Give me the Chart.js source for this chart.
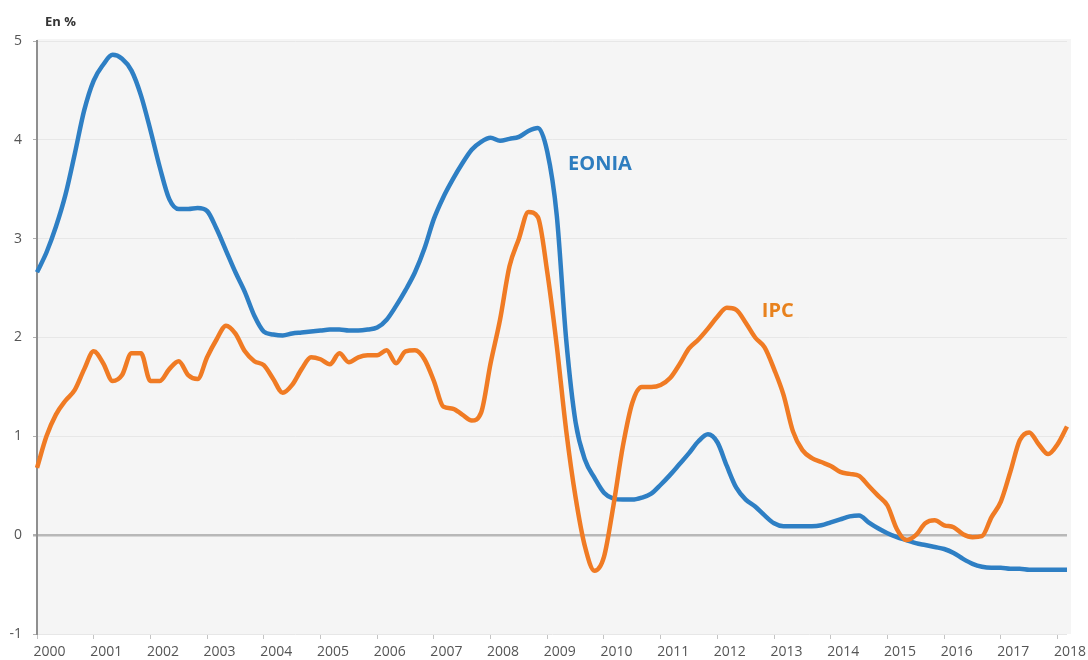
<!DOCTYPE html>
<html>
<head>
<meta charset="utf-8">
<script src="https://cdn.jsdelivr.net/npm/chart.js@4.4.1/dist/chart.umd.min.js"></script>
<style>
  html, body { margin: 0; padding: 0; background: #fff; }
  #wrap { width: 1088px; height: 660px; position: relative; }
</style>
</head>
<body>
<div id="wrap"><canvas id="chart"></canvas></div>
<script>
// one point every two months, Jan 2000 -> Mar 2018
const months = [
  '2000-01','2000-03','2000-05','2000-07','2000-09','2000-11',
  '2001-01','2001-03','2001-05','2001-07','2001-09','2001-11',
  '2002-01','2002-03','2002-05','2002-07','2002-09','2002-11',
  '2003-01','2003-03','2003-05','2003-07','2003-09','2003-11',
  '2004-01','2004-03','2004-05','2004-07','2004-09','2004-11',
  '2005-01','2005-03','2005-05','2005-07','2005-09','2005-11',
  '2006-01','2006-03','2006-05','2006-07','2006-09','2006-11',
  '2007-01','2007-03','2007-05','2007-07','2007-09','2007-11',
  '2008-01','2008-03','2008-05','2008-07','2008-09','2008-11',
  '2009-01','2009-03','2009-05','2009-07','2009-09','2009-11',
  '2010-01','2010-03','2010-05','2010-07','2010-09','2010-11',
  '2011-01','2011-03','2011-05','2011-07','2011-09','2011-11',
  '2012-01','2012-03','2012-05','2012-07','2012-09','2012-11',
  '2013-01','2013-03','2013-05','2013-07','2013-09','2013-11',
  '2014-01','2014-03','2014-05','2014-07','2014-09','2014-11',
  '2015-01','2015-03','2015-05','2015-07','2015-09','2015-11',
  '2016-01','2016-03','2016-05','2016-07','2016-09','2016-11',
  '2017-01','2017-03','2017-05','2017-07','2017-09','2017-11',
  '2018-01','2018-03'
];

const eonia = [
  2.66, 2.86, 3.12, 3.44, 3.86, 4.30,
  4.60, 4.76, 4.86, 4.82, 4.70, 4.45,
  4.10, 3.72, 3.40, 3.30, 3.30, 3.31,
  3.28, 3.10, 2.88, 2.66, 2.46, 2.22,
  2.06, 2.03, 2.02, 2.04, 2.05, 2.06,
  2.07, 2.08, 2.08, 2.07, 2.07, 2.08,
  2.10, 2.18, 2.32, 2.48, 2.66, 2.90,
  3.20, 3.42, 3.60, 3.76, 3.90, 3.98,
  4.02, 3.99, 4.01, 4.03, 4.09, 4.12,
  3.88, 3.24, 1.98, 1.14, 0.76, 0.58,
  0.43, 0.37, 0.36, 0.36, 0.38, 0.42,
  0.51, 0.61, 0.72, 0.83, 0.95, 1.02,
  0.94, 0.70, 0.48, 0.36, 0.29, 0.20,
  0.12, 0.09, 0.09, 0.09, 0.09, 0.10,
  0.13, 0.16, 0.19, 0.20, 0.13, 0.07,
  0.02, -0.02, -0.05, -0.08, -0.10, -0.12,
  -0.14, -0.18, -0.24, -0.29, -0.32, -0.33,
  -0.33, -0.34, -0.34, -0.35, -0.35, -0.35,
  -0.35, -0.35
];

const ipc = [
  0.68, 1.00, 1.22, 1.36, 1.47, 1.68,
  1.86, 1.74, 1.56, 1.62, 1.84, 1.84,
  1.56, 1.56, 1.68, 1.76, 1.62, 1.58,
  1.80, 1.98, 2.12, 2.04, 1.86, 1.76,
  1.72, 1.58, 1.44, 1.52, 1.68, 1.80,
  1.78, 1.73, 1.84, 1.75, 1.80, 1.82,
  1.82, 1.87, 1.74, 1.86, 1.87, 1.78,
  1.56, 1.30, 1.28, 1.22, 1.16, 1.24,
  1.74, 2.18, 2.72, 3.00, 3.27, 3.22,
  2.66, 1.92, 1.06, 0.38, -0.12, -0.36,
  -0.22, 0.30, 0.90, 1.34, 1.50, 1.50,
  1.52, 1.59, 1.73, 1.89, 1.98, 2.09,
  2.21, 2.30, 2.28, 2.15, 2.00, 1.90,
  1.68, 1.42, 1.05, 0.86, 0.78, 0.74,
  0.70, 0.64, 0.62, 0.60, 0.50, 0.40,
  0.30, 0.06, -0.05, 0.00, 0.12, 0.15,
  0.10, 0.08, 0.01, -0.02, -0.01, 0.18,
  0.34, 0.64, 0.96, 1.04, 0.92, 0.82,
  0.92, 1.10
];

const yMin = -1, yMax = 5;

const BLUE = '#2e7fc4';
const ORANGE = '#f07b24';

Chart.defaults.font.family = '"Open Sans", "Liberation Sans", sans-serif';
Chart.defaults.color = '#595959';

const isYearStart = i => months[i] && months[i].endsWith('-01');

// plot background + the in-chart texts
const decor = {
  id: 'decor',
  beforeDraw(chart){
    const {ctx, chartArea: a} = chart;
    ctx.save();
    ctx.fillStyle = '#f5f5f5';
    ctx.fillRect(a.left, a.top - 2, a.right - a.left + 4, a.bottom - a.top + 2);
    ctx.restore();
  },
  afterDraw(chart){
    const {ctx, scales: {x, y}} = chart;
    ctx.save();
    ctx.textBaseline = 'middle';
    ctx.font = 'bold 13px "Open Sans"';
    ctx.fillStyle = '#333';
    ctx.fillText('En %', 45, 22);
    ctx.font = 'bold 20px "Open Sans"';
    ctx.fillStyle = '#2e7dbf';
    ctx.fillText('EONIA', x.getPixelForValue(56.2), y.getPixelForValue(3.75));
    ctx.fillStyle = '#e8821e';
    ctx.fillText('IPC', x.getPixelForValue(76.7), y.getPixelForValue(2.27));
    ctx.restore();
  }
};

new Chart(document.getElementById('chart'), {
  type: 'line',
  data: {
    labels: months,
    datasets: [
      { label: 'IPC', data: ipc, borderColor: ORANGE, borderWidth: 4.5, pointRadius: 0,
        cubicInterpolationMode: 'monotone', fill: false },
      { label: 'EONIA', data: eonia, borderColor: BLUE, borderWidth: 4.5, pointRadius: 0,
        cubicInterpolationMode: 'monotone', fill: false }
    ]
  },
  options: {
    responsive: true,
    maintainAspectRatio: false,
    animation: false,
    layout: { padding: { top: 41, right: 21, left: 0, bottom: 0 } },
    plugins: { legend: { display: false }, tooltip: { enabled: false } },
    scales: {
      x: {
        type: 'category',
        offset: false,
        border: { display: false },
        grid: {
          drawOnChartArea: false,
          tickLength: 5,
          color: c => isYearStart(c.index) ? '#c4c4c4' : 'rgba(0,0,0,0)'
        },
        ticks: {
          autoSkip: false,
          maxRotation: 0,
          minRotation: 0,
          padding: 5,
          labelOffset: 12.5,
          font: { size: 14 },
          color: '#555',
          callback: (v, i) => isYearStart(i) ? months[i].slice(0, 4) : ''
        },
        afterFit: s => { s.height = 26; }
      },
      y: {
        min: yMin,
        max: yMax,
        border: { display: true, color: '#8f8f8f', width: 2 },
        grid: {
          tickLength: 4,
          color: c => c.tick && c.tick.value === 0 ? '#b8b8b8' : '#e7e7e7',
          lineWidth: c => c.tick && c.tick.value === 0 ? 2.5 : 1,
          tickColor: '#b0b0b0'
        },
        ticks: { stepSize: 1, padding: 11, font: { size: 14 }, color: '#555' },
        afterFit: s => { s.width = 37; }
      }
    }
  },
  plugins: [decor]
});
</script>
</body>
</html>
